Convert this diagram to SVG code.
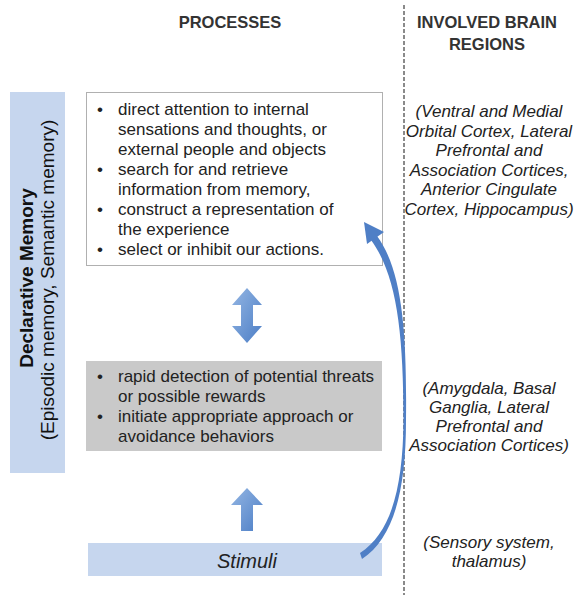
<svg xmlns="http://www.w3.org/2000/svg" width="580" height="598" viewBox="0 0 580 598">
<style>
.hdr{font-family:"Liberation Sans",Arial,sans-serif;font-weight:bold;font-size:16.5px;fill:#333;text-anchor:middle}
.body{font-family:"Liberation Sans",Arial,sans-serif;font-size:17px;fill:#222}
.reg{font-family:"Liberation Sans",Arial,sans-serif;font-style:italic;font-size:17px;fill:#222;text-anchor:middle}
.side{font-family:"Liberation Sans",Arial,sans-serif;font-size:19px;fill:#111;text-anchor:middle}
.band{fill:#c6d6ee}
.blk{fill:url(#g)}
</style>
<defs>
<linearGradient id="g" x1="0" y1="0" x2="1" y2="1">
<stop offset="0" stop-color="#94b6e3"/>
<stop offset="1" stop-color="#4c7ec6"/>
</linearGradient>
</defs>
<rect width="580" height="598" fill="#fff"/>
<g id="headers">
<text class="hdr" x="230" y="28">PROCESSES</text>
<text class="hdr" x="487" y="28">INVOLVED BRAIN</text>
<text class="hdr" x="487" y="50">REGIONS</text>
</g>
<line x1="404" y1="5" x2="404" y2="595" stroke="#8a8a8a" stroke-width="2" stroke-dasharray="4 2"/>
<g id="declarative">
<rect class="band" x="10" y="92" width="55" height="381"/>
<text class="side" font-weight="bold" transform="translate(33,278) rotate(-90)">Declarative Memory</text>
<text class="side" transform="translate(54,280) rotate(-90)">(Episodic memory, Semantic memory)</text>
</g>
<g id="executive">
<rect x="86.5" y="92.5" width="296" height="173" fill="#fff" stroke="#b0b0b0" stroke-width="1"/>
<g class="body">
<text x="97" y="115">•</text><text x="118" y="115">direct attention to internal</text>
<text x="118" y="135">sensations and thoughts, or</text>
<text x="118" y="155">external people and objects</text>
<text x="97" y="175">•</text><text x="118" y="175">search for and retrieve</text>
<text x="118" y="195">information from memory,</text>
<text x="97" y="215">•</text><text x="118" y="215">construct a representation of</text>
<text x="118" y="235">the experience</text>
<text x="97" y="255">•</text><text x="118" y="255">select or inhibit our actions.</text>
</g>
</g>
<g id="salience">
<rect x="86" y="361" width="296" height="90" fill="#c9c9c9"/>
<g class="body">
<text x="97" y="382">•</text><text x="118" y="382">rapid detection of potential threats</text>
<text x="118" y="402">or possible rewards</text>
<text x="97" y="422">•</text><text x="118" y="422">initiate appropriate approach or</text>
<text x="118" y="442">avoidance behaviors</text>
</g>
</g>
<g id="stimuli">
<rect class="band" x="88" y="543" width="294" height="33"/>
<text x="247" y="568" font-family="'Liberation Sans',Arial,sans-serif" font-style="italic" font-size="20" fill="#222" text-anchor="middle">Stimuli</text>
</g>
<g id="regions">
<g class="reg">
<text x="489" y="117">(Ventral and Medial</text>
<text x="489" y="136.5">Orbital Cortex, Lateral</text>
<text x="489" y="156">Prefrontal and</text>
<text x="489" y="175.5">Association Cortices,</text>
<text x="489" y="195">Anterior Cingulate</text>
<text x="489" y="214.5">Cortex, Hippocampus)</text>
<text x="489" y="394">(Amygdala, Basal</text>
<text x="489" y="413">Ganglia, Lateral</text>
<text x="489" y="432">Prefrontal and</text>
<text x="489" y="451">Association Cortices)</text>
<text x="489" y="548">(Sensory system,</text>
<text x="489" y="567">thalamus)</text>
</g>
</g>
<g id="connectors">
<polygon class="blk" points="247,288 262,305 253,305 253,326 262,326 247,343 232,326 241,326 241,305 232,305"/>
<polygon class="blk" points="247,488 263,505 253,505 253,531 241,531 241,505 231,505"/>
<path d="M362 559 C394 538 406 490 406 420 C407 330 402 270 377 236 L371 240 C396 274 403.5 330 403.5 420 C403 488 391 533 360 553 Z" fill="#4f7fc6"/>
<polygon points="364,222 384,232 367,244" fill="#4f7fc6"/>
</g>
</svg>
